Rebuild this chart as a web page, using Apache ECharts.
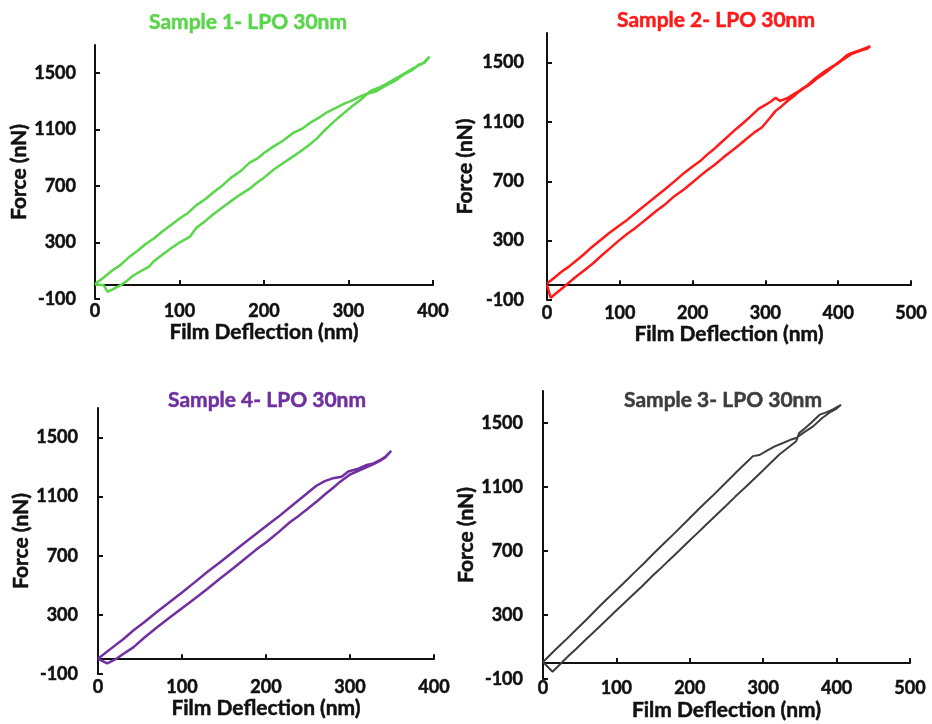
<!DOCTYPE html>
<html>
<head>
<meta charset="utf-8">
<script src="https://cdn.jsdelivr.net/npm/echarts@6/dist/echarts.min.js"></script>
<style>
  html, body { margin: 0; padding: 0; background: #fff; }
  #chart { width: 932px; height: 724px; }
</style>
</head>
<body>
<div id="chart"></div>
<script>
// titles / axis text
var titles = ['Sample 1- LPO 30nm', 'Sample 2- LPO 30nm', 'Sample 4- LPO 30nm', 'Sample 3- LPO 30nm'];
var xName = 'Film Deflection (nm)';
var yName = 'Force (nN)';
var yTicks = [-100, 300, 700, 1100, 1500];
var xTicks400 = [0, 100, 200, 300, 400];
var xTicks500 = [0, 100, 200, 300, 400, 500];

// loops: [deflection nm, force nN]
// out along the upper branch, back along the lower one
var sample1 = [
    [0, 7], [10, 50], [20, 100], [30, 140], [40, 195], [50, 240], [60, 290], [70, 330], [80, 380],
    [90, 425], [100, 470], [110, 510], [120, 565], [130, 605], [140, 655], [150, 700], [160, 755],
    [172, 805], [183, 867], [192, 895], [200, 935], [211, 980], [222, 1020], [234, 1075], [246, 1110],
    [255, 1150], [265, 1185], [275, 1225], [285, 1255], [295, 1285], [302, 1300], [312, 1330],
    [322, 1355], [332, 1370], [345, 1415], [355, 1445], [365, 1490], [375, 1520], [383, 1560],
    [390, 1575], [396, 1617],
    [388, 1570], [378, 1540], [368, 1505], [358, 1470], [345, 1425], [335, 1395], [326, 1375],
    [318, 1330], [313, 1305], [305, 1270], [298, 1235], [288, 1185], [278, 1130], [270, 1085],
    [263, 1040], [253, 990], [243, 945], [232, 900], [222, 860], [212, 820], [200, 760], [192, 725],
    [183, 682], [172, 640], [160, 590], [150, 545], [140, 500], [130, 450], [120, 405], [112, 340],
    [100, 300], [90, 260], [80, 215], [70, 170], [64, 130], [55, 100], [45, 65], [38, 30], [31, 0],
    [22, -28], [15, -50], [10, 0], [0, 3]
];
var sample2 = [
    [0, 12], [10, 50], [20, 90], [30, 125], [40, 165], [50, 205], [60, 250], [72, 298], [85, 350],
    [99, 400], [110, 440], [120, 480], [130, 520], [140, 560], [150, 600], [163, 650], [175, 700],
    [188, 755], [200, 800], [210, 835], [220, 880], [230, 920], [240, 965], [250, 1010], [259, 1050],
    [270, 1095], [280, 1140], [291, 1190], [300, 1215], [308, 1240], [314, 1264], [320, 1242],
    [330, 1260], [338, 1285], [346, 1309], [358, 1350], [370, 1400], [382, 1443], [394, 1480],
    [405, 1520], [412, 1550], [419, 1566], [430, 1585], [438, 1600], [444, 1611],
    [440, 1595], [430, 1580], [419, 1560], [408, 1525], [395, 1480], [382, 1430], [370, 1390],
    [360, 1350], [352, 1325], [345, 1300], [338, 1270], [330, 1240], [322, 1205], [314, 1175],
    [305, 1120], [295, 1063], [285, 1030], [275, 990], [264, 945], [254, 906], [242, 860], [230, 810],
    [220, 775], [210, 735], [200, 694], [188, 645], [175, 600], [163, 548], [150, 500], [140, 460],
    [130, 420], [120, 380], [110, 345], [99, 302], [88, 255], [75, 200], [63, 146], [50, 95],
    [38, 50], [26, 0], [5, -85], [0, 3]
];
var sample4 = [
    [0, 3], [15, 70], [30, 135], [42, 194], [55, 250], [70, 320], [85, 385], [100, 452], [115, 520],
    [130, 590], [145, 655], [161, 727], [175, 790], [188, 848], [201, 905], [215, 965], [230, 1035],
    [245, 1105], [260, 1174], [270, 1205], [280, 1225], [290, 1235], [298, 1270], [310, 1290],
    [320, 1315], [328, 1325], [335, 1345], [342, 1370], [349, 1410],
    [342, 1365], [335, 1340], [328, 1320], [320, 1300], [310, 1275], [300, 1250], [288, 1200],
    [280, 1160], [270, 1115], [260, 1065], [250, 1020], [240, 975], [228, 925], [215, 860], [201, 795],
    [188, 740], [175, 680], [161, 615], [145, 545], [130, 475], [115, 410], [100, 345], [85, 280],
    [70, 215], [55, 145], [42, 80], [30, 35], [21, 0], [11, -28], [0, 3]
];
var sample3 = [
    [0, 6], [15, 75], [30, 140], [45, 208], [60, 275], [75, 345], [90, 412], [98, 447], [110, 500],
    [125, 568], [138, 625], [150, 681], [165, 748], [180, 815], [199, 902], [215, 975], [230, 1040],
    [250, 1131], [265, 1200], [276, 1248], [286, 1293], [295, 1300], [304, 1324], [315, 1352],
    [327, 1375], [337, 1395], [345, 1406], [355, 1440], [368, 1479], [380, 1530], [392, 1570],
    [400, 1590], [406, 1614],
    [395, 1585], [385, 1565], [377, 1552], [365, 1500], [355, 1460], [349, 1438], [345, 1386],
    [335, 1350], [322, 1303], [310, 1250], [300, 1205], [290, 1161], [275, 1095], [262, 1040],
    [250, 986], [235, 920], [220, 855], [210, 810], [199, 762], [185, 700], [170, 635], [160, 590],
    [150, 548], [135, 480], [120, 415], [110, 372], [98, 320], [85, 262], [70, 197], [58, 145],
    [45, 88], [35, 45], [25, 0], [13, -55], [0, 6]
];

var colors = ['#5ad64a', '#ff1a1a', '#7030a0', '#3d3d3d'];
var loops = [sample1, sample2, sample4, sample3];

var grids = [
    { left: 95, top: 45, width: 338, height: 254 },
    { left: 547, top: 33, width: 364, height: 267 },
    { left: 98, top: 408, width: 336, height: 266 },
    { left: 543, top: 391, width: 367, height: 288 }
];
var xMax = [400, 500, 400, 500];
var titlePos = [[243, 7], [711, 5], [262, 385], [718, 385]];
var yNameGap = [64, 71, 65, 62];
var yLabelMargin = [19, 23, 20, 20];
var xLabelMargin = [3, 4, 4, 0];
var xNameGap = [23, 23, 24, 21];

var font = 'Lato';
var ink = '#111';
var bold = 'bold';
var noComma = function (v) { return String(v); };

function txt(size, color) {
    return { fontFamily: font, fontWeight: bold, fontSize: size, color: color,
             textBorderColor: color, textBorderWidth: 0.5 };
}

var option = { animation: false, title: [], grid: [], xAxis: [], yAxis: [], series: [] };

for (var i = 0; i < 4; i++) {
    var xt = xMax[i] === 400 ? xTicks400 : xTicks500;
    option.title.push({
        text: titles[i], left: titlePos[i][0], top: titlePos[i][1], textAlign: 'center',
        textStyle: txt(21, colors[i])
    });
    option.grid.push(grids[i]);
    // the line at force = 0, with ticks pointing up
    option.xAxis.push({
        type: 'value', gridIndex: i, min: 0, max: xMax[i], position: 'bottom',
        axisLine: { onZero: true, lineStyle: { color: ink, width: 2 } },
        axisTick: { inside: true, length: 5, lineStyle: { color: ink, width: 2 }, customValues: xt },
        axisLabel: { show: false },
        splitLine: { show: false }
    });
    // labels and title sit at the bottom of the plot, below -100
    var xl = txt(18, ink);
    xl.margin = xLabelMargin[i];
    xl.customValues = xt;
    xl.formatter = noComma;
    option.xAxis.push({
        type: 'value', gridIndex: i, min: 0, max: xMax[i], position: 'bottom',
        name: xName, nameLocation: 'middle', nameGap: xNameGap[i],
        nameTextStyle: txt(21, ink),
        axisLine: { show: false, onZero: false },
        axisTick: { show: false },
        axisLabel: xl,
        splitLine: { show: false }
    });
    var yl = txt(18, ink);
    yl.margin = yLabelMargin[i];
    yl.customValues = yTicks;
    yl.formatter = noComma;
    option.yAxis.push({
        type: 'value', gridIndex: i, min: -100, max: 1700,
        name: yName, nameLocation: 'middle', nameGap: yNameGap[i],
        nameTextStyle: txt(21, ink),
        axisLine: { show: true, onZero: false, lineStyle: { color: ink, width: 2 } },
        axisTick: { show: true, inside: true, length: 5, lineStyle: { color: ink, width: 2 }, customValues: yTicks },
        axisLabel: yl,
        splitLine: { show: false }
    });
    option.series.push({
        type: 'line', xAxisIndex: 2 * i, yAxisIndex: i, data: loops[i],
        showSymbol: false, symbol: 'none',
        lineStyle: { color: colors[i], width: i === 3 ? 2 : 2.5 },
        z: 1
    });
}

var chart = echarts.init(document.getElementById('chart'));
chart.setOption(option);
</script>
</body>
</html>
